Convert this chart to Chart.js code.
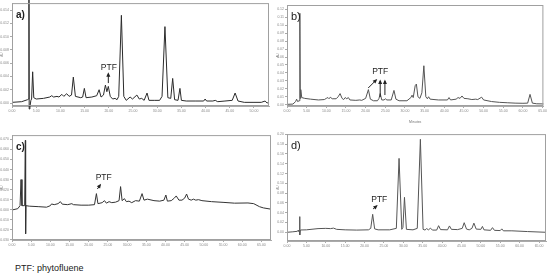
<!DOCTYPE html>
<html>
<head>
<meta charset="utf-8">
<script src="https://cdn.jsdelivr.net/npm/chart.js@4.4.1/dist/chart.umd.min.js"></script>
<style>
  body { margin: 0; background: #fff; width: 550px; height: 279px; position: relative; overflow: hidden; font-family: "Liberation Sans", Arial, sans-serif; }
  canvas { position: absolute; }
  #note { position: absolute; left: 15px; top: 263px; font-size: 9px; color: #222; }
</style>
</head>
<body>
<canvas id="ca" width="272" height="124" style="left:0;top:0"></canvas>
<canvas id="cb" width="272" height="124" style="left:276px;top:0"></canvas>
<canvas id="cc" width="274" height="122" style="left:0;top:132px"></canvas>
<canvas id="cd" width="274" height="124" style="left:276px;top:131px"></canvas>
<div id="note">PTF: phytofluene</div>
<script>
// retention time (min) and absorbance (AU)
const aTime = [0, 2.0, 3.2, 3.45, 3.5, 3.55, 3.7, 3.9, 4.05, 4.27, 4.5, 5.0, 6.5, 7.8, 8.2, 8.6, 9.3, 9.7, 10.3, 10.7, 11.3, 11.8, 12.3, 12.67, 13.1, 14.2, 14.6, 14.95, 15.3, 16.5, 17.5, 18.0, 18.4, 18.9, 19.3, 19.6, 19.9, 20.3, 20.8, 21.3, 21.7, 22.05, 22.6, 23.1, 23.6, 24.4, 24.9, 25.8, 26.3, 26.8, 27.3, 27.9, 28.3, 29.5, 30.5, 31.0, 31.6, 32.2, 32.8, 33.2, 33.6, 34.3, 34.7, 35.0, 36, 38, 39.6, 39.9, 40.2, 41.5, 42, 42.5, 44, 45.5, 46.1, 46.7, 48, 50, 51.5, 52.3, 52.7, 53.1];
const aAU = [0.0001, 0.0002, 0.0005, 0.0006, 0.02, -0.0009, -0.0006, 0.0004, 0.0006, 0.0047, 0.0008, 0.0006, 0.0007, 0.0009, 0.0011, 0.0009, 0.0010, 0.0009, 0.0013, 0.0010, 0.0014, 0.0010, 0.0012, 0.0039, 0.0010, 0.0008, 0.0009, 0.0022, 0.0008, 0.0009, 0.0011, 0.0020, 0.0009, 0.0012, 0.0027, 0.0017, 0.0025, 0.0010, 0.0006, 0.0007, 0.0005, 0.0010, 0.0132, 0.0010, 0.0004, 0.0009, 0.0006, 0.0012, 0.0006, 0.0007, 0.0004, 0.0015, 0.0004, 0.0004, 0.0004, 0.0010, 0.0115, 0.0008, 0.0007, 0.0037, 0.0005, 0.0004, 0.0022, 0.0004, 0.0003, 0.0003, 0.0003, 0.0006, 0.0003, 0.0003, 0.0004, 0.0002, 0.0003, 0.0004, 0.0015, 0.0003, 0.0001, 0.0001, 0.0001, 0.0003, 0.0, 0.0001];

const bTime = [0, 1.5, 2.2, 2.44, 2.7, 3.1, 3.27, 3.38, 3.5, 3.75, 4.5, 6, 8, 9.5, 10.0, 10.4, 10.7, 11.0, 11.5, 12.5, 13.0, 13.5, 14.0, 14.4, 14.8, 15.2, 15.6, 16.0, 17.5, 18.5, 19.0, 20.0, 20.7, 21.2, 22.0, 23.0, 23.4, 23.7, 24.1, 24.7, 25.0, 25.4, 26.5, 27.2, 27.7, 28.5, 30.5, 31.5, 31.8, 32.1, 32.6, 32.9, 33.3, 33.8, 34.3, 34.8, 35.3, 35.7, 36.0, 36.4, 38.5, 40.8, 41.2, 41.6, 43, 43.5, 44, 44.5, 45, 46, 47, 48, 48.5, 49.5, 50, 52, 54, 56, 58, 60, 61.2, 61.8, 62.4, 63.5, 65.2];
const bAU = [0.0005, 0.0008, 0.004, 0.007, 0.004, 0.005, 0.115, 0.008, 0.019, 0.009, 0.008, 0.007, 0.006, 0.0065, 0.008, 0.009, 0.0075, 0.0095, 0.0075, 0.0075, 0.010, 0.014, 0.008, 0.0065, 0.009, 0.0075, 0.009, 0.006, 0.0055, 0.006, 0.0055, 0.008, 0.019, 0.007, 0.005, 0.005, 0.008, 0.014, 0.006, 0.006, 0.0075, 0.006, 0.006, 0.018, 0.007, 0.005, 0.005, 0.009, 0.012, 0.009, 0.024, 0.026, 0.010, 0.008, 0.015, 0.049, 0.010, 0.0075, 0.010, 0.007, 0.006, 0.006, 0.009, 0.006, 0.007, 0.009, 0.008, 0.011, 0.008, 0.0075, 0.0065, 0.007, 0.0065, 0.0095, 0.006, 0.004, 0.003, 0.0025, 0.002, 0.0018, 0.002, 0.013, 0.002, 0.0012, 0.001];

const cTime = [0, 1.5, 2.1, 2.35, 2.6, 3.3, 3.48, 3.55, 3.65, 4.5, 7, 9, 10, 10.3, 11, 12, 12.6, 13.1, 14.5, 15.6, 16, 18, 20, 21.5, 22.0, 22.4, 23.5, 24.1, 24.6, 25.3, 26, 27, 27.9, 28.3, 28.7, 29.3, 29.8, 30.5, 31.2, 32.2, 33.2, 33.9, 34.4, 35.3, 37, 38.5, 39.6, 40.1, 40.5, 41.5, 42.3, 42.8, 43.5, 44.3, 45.0, 45.5, 46.0, 46.7, 47.3, 47.9, 48.6, 49.5, 52, 55, 58, 61.5, 63.0, 64.5, 65.5, 67.5];
const cAU = [-0.0003, 0.001, 0.004, 0.030, 0.004, 0.004, 0.069, -0.024, 0.004, 0.0035, 0.003, 0.0025, 0.004, 0.0057, 0.005, 0.006, 0.008, 0.0055, 0.005, 0.006, 0.005, 0.0045, 0.0045, 0.005, 0.016, 0.006, 0.007, 0.009, 0.0065, 0.008, 0.007, 0.0075, 0.009, 0.023, 0.009, 0.011, 0.008, 0.0085, 0.007, 0.009, 0.0085, 0.016, 0.0095, 0.0105, 0.009, 0.0085, 0.0095, 0.0146, 0.0085, 0.009, 0.0115, 0.0137, 0.0095, 0.0095, 0.0115, 0.0156, 0.0105, 0.0095, 0.0105, 0.0095, 0.010, 0.009, 0.008, 0.0073, 0.0065, 0.0067, 0.006, 0.003, 0.0018, 0.0005];

const dTime = [0, 1.5, 2.7, 2.85, 3.0, 3.2, 3.26, 3.33, 3.45, 5, 8, 10, 11.2, 12.0, 12.8, 15, 18, 21, 21.6, 22.1, 22.6, 23.5, 26.5, 28.2, 28.9, 29.6, 29.9, 30.3, 30.8, 32.5, 33.6, 34.4, 35.1, 35.6, 36.0, 36.5, 37.0, 37.5, 38.6, 39.1, 39.6, 41.4, 41.9, 42.4, 44, 45.2, 45.7, 46.3, 47, 47.7, 48.2, 48.8, 50, 50.4, 50.8, 52.5, 53.0, 53.5, 55, 55.4, 55.8, 58, 62, 66.8];
const dAU = [0.0, 0.001, 0.002, 0.004, 0.002, 0.002, 0.032, -0.0055, 0.0047, 0.005, 0.0075, 0.008, 0.0075, 0.0085, 0.006, 0.005, 0.0045, 0.005, 0.008, 0.0367, 0.007, 0.005, 0.005, 0.008, 0.151, 0.006, 0.010, 0.0714, 0.006, 0.005, 0.008, 0.190, 0.006, 0.0045, 0.0075, 0.005, 0.0085, 0.0045, 0.0045, 0.0135, 0.0055, 0.005, 0.013, 0.006, 0.0055, 0.008, 0.0196, 0.0065, 0.005, 0.008, 0.0187, 0.0065, 0.006, 0.012, 0.005, 0.004, 0.0095, 0.004, 0.0035, 0.007, 0.003, 0.003, 0.0015, 0.0];

// PTF label position and arrows, in data units [t, AU]
const aPTF = { text: [20.0, 0.0053], arrows: [[19.9, 0.0030, 19.9, 0.0044]] };
const bPTF = { text: [23.7, 0.041], arrows: [[20.65, 0.021, 22.67, 0.031], [23.7, 0.0097, 23.7, 0.0298], [24.9, 0.0122, 24.9, 0.0298]] };
const cPTF = { text: [23.9, 0.0315], arrows: [[22.25, 0.0206, 22.98, 0.0246]] };
const dPTF = { text: [23.8, 0.0659], arrows: [[22.2, 0.0476, 23.1, 0.0537]] };

const marks = {
  id: 'marks',
  afterDatasetsDraw(chart, args, opts) {
    const ctx = chart.ctx, a = chart.chartArea;
    const xs = chart.scales.x, ys = chart.scales.y;
    ctx.save();
    ctx.strokeStyle = '#a0a0a0';
    ctx.lineWidth = 1;
    ctx.strokeRect(a.left + 0.5, a.top + 0.5, a.right - a.left - 1, a.bottom - a.top - 1);

    ctx.fillStyle = '#222';
    ctx.font = opts.letterFont;
    ctx.textBaseline = 'alphabetic';
    ctx.fillText(opts.letter, a.left + 4, a.top + 15);

    const p = opts.ptf;
    ctx.font = '8.5px "Liberation Sans", Arial, sans-serif';
    ctx.textAlign = 'center';
    ctx.textBaseline = 'middle';
    ctx.fillText('PTF', xs.getPixelForValue(p.text[0]), ys.getPixelForValue(p.text[1]));
    ctx.strokeStyle = '#222';
    p.arrows.forEach(r => {
      const x1 = xs.getPixelForValue(r[0]), y1 = ys.getPixelForValue(r[1]);
      const x2 = xs.getPixelForValue(r[2]), y2 = ys.getPixelForValue(r[3]);
      const ang = Math.atan2(y2 - y1, x2 - x1);
      ctx.beginPath();
      ctx.moveTo(x1, y1);
      ctx.lineTo(x2, y2);
      ctx.stroke();
      ctx.beginPath();
      ctx.moveTo(x2 + Math.cos(ang) * 1.5, y2 + Math.sin(ang) * 1.5);
      ctx.lineTo(x2 - Math.cos(ang) * 3 + Math.sin(ang) * 2, y2 - Math.sin(ang) * 3 - Math.cos(ang) * 2);
      ctx.lineTo(x2 - Math.cos(ang) * 3 - Math.sin(ang) * 2, y2 - Math.sin(ang) * 3 + Math.cos(ang) * 2);
      ctx.closePath();
      ctx.fill();
    });
    ctx.restore();
  }
};

function makeChart(id, times, values, color, cfg) {
  new Chart(document.getElementById(id), {
    type: 'line',
    data: {
      datasets: [{
        data: times.map((t, i) => ({ x: t, y: values[i] })),
        borderColor: color,
        borderWidth: 1,
        pointRadius: 0,
        tension: 0,
        clip: cfg.clip
      }]
    },
    options: {
      responsive: false,
      animation: false,
      layout: { padding: { top: cfg.padTop, right: cfg.padRight, left: 0, bottom: 0 } },
      plugins: {
        legend: { display: false },
        tooltip: { enabled: false },
        marks: { letter: cfg.letter, letterFont: cfg.letterFont, ptf: cfg.ptf }
      },
      scales: {
        x: {
          type: 'linear', min: 0, max: cfg.xMax,
          afterFit: s => { s.height = cfg.xH; },
          ticks: { stepSize: 5, includeBounds: false, autoSkip: false, maxRotation: 0, padding: 1,
                   font: { size: 3.5 }, color: '#888', callback: v => v.toFixed(2) },
          grid: { drawOnChartArea: false, tickLength: 2, color: '#aaa' },
          border: { color: '#aaa' },
          title: { display: !!cfg.xTitle, text: cfg.xTitle, font: { size: 3.5 }, color: '#777', padding: 0 }
        },
        y: {
          min: cfg.yMin, max: cfg.yMax,
          afterFit: s => { s.width = cfg.yW; },
          ticks: { stepSize: cfg.yStep, includeBounds: false, autoSkip: false, padding: 1,
                   font: { size: 3.5 }, color: '#888', callback: v => v.toFixed(cfg.yDec) },
          grid: { drawOnChartArea: false, tickLength: 2, color: '#aaa' },
          border: { color: '#aaa' },
          title: { display: true, text: 'AU', font: { size: 3 }, color: '#888', padding: 0 }
        }
      }
    },
    plugins: [marks]
  });
}

const boldFont = 'bold 10px "Liberation Sans", Arial, sans-serif';
const plainFont = '11px "Liberation Sans", Arial, sans-serif';

makeChart('ca', aTime, aAU, '#2b2b2b', { letter: 'a)', letterFont: boldFont, ptf: aPTF, clip: false,
  xMax: 53.1, yMin: -0.00045, yMax: 0.01504, yStep: 0.002, yDec: 3, yW: 12, xH: 18, padTop: 3, padRight: 3 });
makeChart('cb', bTime, bAU, '#555', { letter: 'b)', letterFont: plainFont, ptf: bPTF, clip: 1,
  xMax: 65.2, yMin: -0.0016, yMax: 0.1254, yStep: 0.01, yDec: 2, yW: 11, xH: 18, padTop: 5, padRight: 4, xTitle: 'Minutes' });
makeChart('cc', cTime, cAU, '#333', { letter: 'c)', letterFont: boldFont, ptf: cPTF, clip: 1,
  xMax: 67.5, yMin: -0.0302, yMax: 0.0743, yStep: 0.01, yDec: 3, yW: 12, xH: 14, padTop: 3, padRight: 3 });
makeChart('cd', dTime, dAU, '#555', { letter: 'd)', letterFont: plainFont, ptf: dPTF, clip: 1,
  xMax: 66.8, yMin: -0.0178, yMax: 0.2006, yStep: 0.02, yDec: 2, yW: 11, xH: 14, padTop: 3, padRight: 4 });
</script>
</body>
</html>
